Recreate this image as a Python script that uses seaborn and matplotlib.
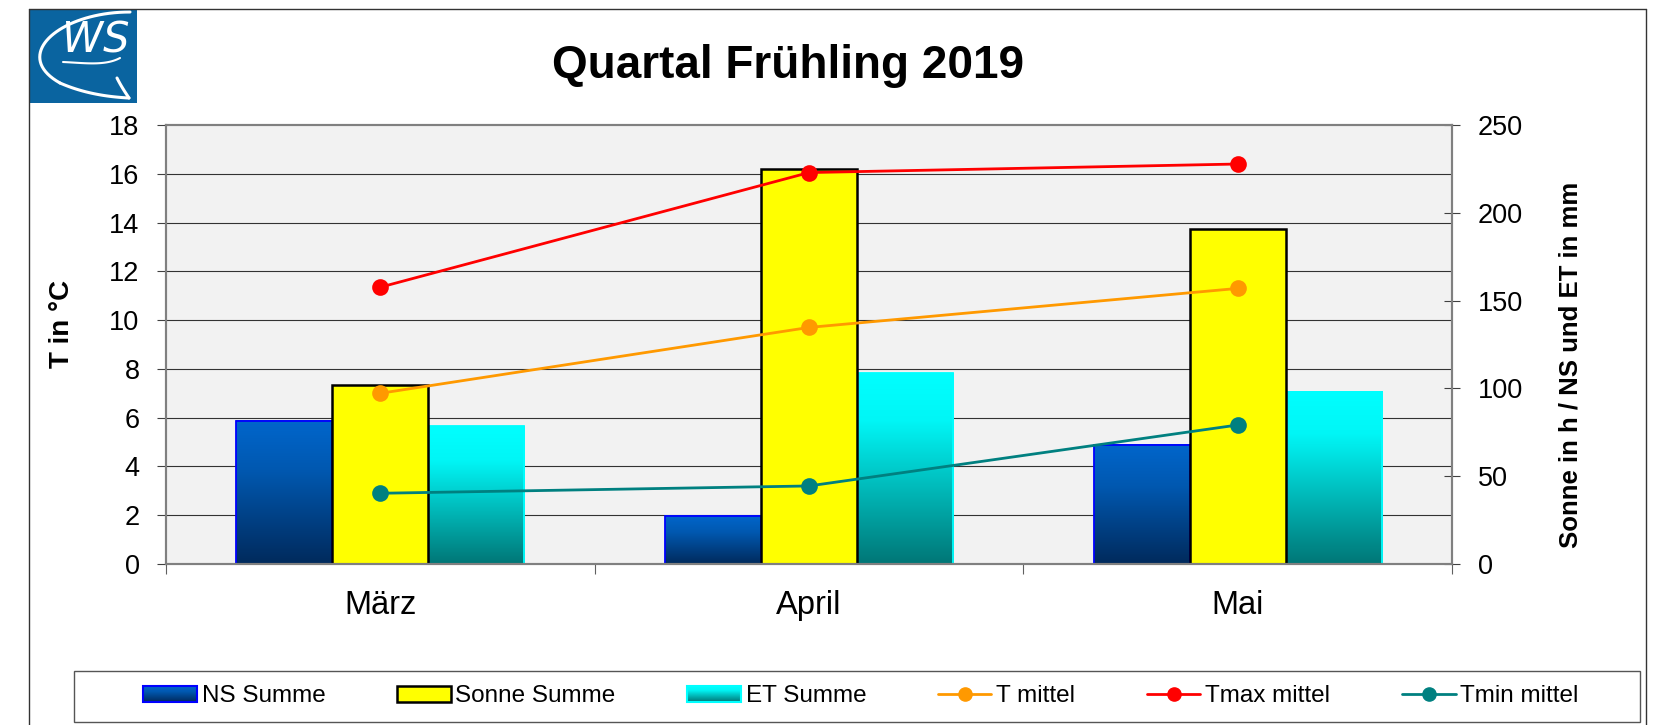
import numpy as np
import pandas as pd
import seaborn as sns
import matplotlib.pyplot as plt
from matplotlib.colors import LinearSegmentedColormap
from matplotlib.patches import Rectangle, Patch
from matplotlib.lines import Line2D
from matplotlib.legend_handler import HandlerBase
from matplotlib.image import BboxImage
from matplotlib.transforms import Bbox, TransformedBbox

# Daten
monate = ['März', 'April', 'Mai']

# Balken, rechte Achse (Sonne in h / NS und ET in mm)
ns_summe = [81.5, 27.5, 68.0]
sonne_summe = [102.0, 225.0, 191.0]
et_summe = [78.5, 108.5, 98.0]

# Linien, linke Achse (T in °C)
t_mittel = [7.0, 9.7, 11.3]
tmax_mittel = [11.35, 16.05, 16.4]
tmin_mittel = [2.9, 3.2, 5.7]

bar_serien = ['NS Summe', 'Sonne Summe', 'ET Summe']
linien_serien = ['T mittel', 'Tmax mittel', 'Tmin mittel']

df_bar = pd.DataFrame({
    'Monat': monate * 3,
    'Serie': [s for s in bar_serien for _ in monate],
    'Wert': ns_summe + sonne_summe + et_summe,
})
df_t = pd.DataFrame({
    'Monat': monate * 3,
    'Serie': [s for s in linien_serien for _ in monate],
    'Wert': t_mittel + tmax_mittel + tmin_mittel,
})

sns.set_style('white')
plt.rcParams['font.family'] = ['Liberation Sans', 'DejaVu Sans']
plt.rcParams['text.color'] = 'black'
plt.rcParams['axes.labelcolor'] = 'black'
plt.rcParams['xtick.color'] = 'black'
plt.rcParams['ytick.color'] = 'black'

W, H = 1662, 725
fig = plt.figure(figsize=(W / 100, H / 100), dpi=100)
ax_t = fig.add_axes([166 / W, 1 - 564 / H, (1452 - 166) / W, (564 - 125) / H])
ax_b = ax_t.twinx()

# Balken
sns.barplot(data=df_bar, x='Monat', y='Wert', hue='Serie', order=monate,
            hue_order=bar_serien, palette=['#0058B0', '#FFFF00', '#00E0E0'],
            width=0.672, gap=0, errorbar=None, legend=False, saturation=1, ax=ax_b)

edge_cols = ['#0000FF', '#000000', '#00FFFF']
edge_lws = [1.3, 1.8, 1.3]
for cont, ec, lw in zip(ax_b.containers, edge_cols, edge_lws):
    for p in cont:
        p.set_edgecolor(ec)
        p.set_linewidth(lw)
for p in ax_b.containers[1]:
    p.set_zorder(2.3)

# Farbverlauf für NS und ET
cmap_ns = LinearSegmentedColormap.from_list('ns', [(0, '#0066CC'), (0.35, '#0058B0'), (1, '#002A5C')])
cmap_et = LinearSegmentedColormap.from_list('et', [(0, '#00FFFF'), (0.25, '#00F6F6'), (1, '#007676')])
grad = np.linspace(0, 1, 256).reshape(-1, 1)
for cont, cmap in [(ax_b.containers[0], cmap_ns), (ax_b.containers[2], cmap_et)]:
    for p in cont:
        x0, w, h = p.get_x(), p.get_width(), p.get_height()
        ax_b.imshow(grad, cmap=cmap, extent=[x0, x0 + w, 0, h], origin='upper',
                    aspect='auto', zorder=1.9, interpolation='bilinear')
        p.set_facecolor('none')
        p.set_zorder(2.1)

ax_b.set_xlim(-0.5, 2.5)
ax_b.set_ylim(0, 250)

# Linien
sns.pointplot(data=df_t, x='Monat', y='Wert', hue='Serie', order=monate,
              hue_order=linien_serien, palette=['#FF9900', '#FF0000', '#008080'],
              markers='o', linestyles='-', errorbar=None, dodge=False, legend=False,
              markersize=10.5, linewidth=2, ax=ax_t)

ax_t.set_zorder(ax_b.get_zorder() + 1)
ax_t.patch.set_visible(False)
ax_b.patch.set_visible(True)
ax_b.set_facecolor('#F2F2F2')

ax_t.set_xlim(-0.5, 2.5)
ax_t.set_ylim(0, 18)
ax_t.set_yticks(range(0, 19, 2))
ax_t.tick_params(axis='y', direction='out', length=6.5, width=0.8, color='#404040',
                 labelsize=19.5, pad=12.5, left=True)
ax_b.set_yticks(range(0, 251, 50))
ax_b.tick_params(axis='y', which='major', direction='inout', length=12, width=0.8,
                 color='#404040', labelsize=19.5, pad=12.5, right=True)
ax_b.set_yticks(np.arange(1, 9) * 250 / 9, minor=True)
ax_b.tick_params(axis='y', which='minor', length=0)
ax_b.yaxis.grid(True, which='minor', color='#333333', linewidth=0.8)
ax_b.set_axisbelow(True)

ax_t.set_xticks([0, 1, 2])
ax_t.set_xticklabels(monate)
ax_t.set_xticks([-0.5, 0.5, 1.5, 2.5], minor=True)
ax_t.tick_params(axis='x', which='major', length=0, labelsize=23.5, pad=19)
ax_t.tick_params(axis='x', which='minor', direction='out', length=7, width=0.8,
                 color='#606060', bottom=True)

for ax in (ax_t, ax_b):
    ax.set_xlabel('')
    ax.set_ylabel('')
    for s in ax.spines.values():
        s.set_visible(True)
        s.set_color('#808080')
        s.set_linewidth(1.5)

fig.text(62 / W, 1 - 324 / H, 'T in °C', rotation=90, ha='center', va='center',
         fontsize=20, fontweight='bold')
fig.text(1570 / W, 1 - 365 / H, 'Sonne in h / NS und ET in mm', rotation=90,
         ha='center', va='center', fontsize=18.5, fontweight='bold')
fig.text(788 / W, 1 - 66 / H, 'Quartal Frühling 2019', ha='center', va='center',
         fontsize=33, fontweight='bold')


# Legende
class GradHandler(HandlerBase):
    def __init__(self, cmap, edge):
        super().__init__()
        self.cmap = cmap
        self.edge = edge

    def create_artists(self, legend, orig_handle, xdescent, ydescent, width, height, fontsize, trans):
        bb = TransformedBbox(Bbox.from_bounds(-xdescent, -ydescent, width, height), trans)
        img = BboxImage(bb, cmap=self.cmap, interpolation='bilinear')
        img.set_data(grad)
        rect = Rectangle((-xdescent, -ydescent), width, height, fc='none',
                         ec=self.edge, lw=1.5, transform=trans)
        return [img, rect]


h_ns = Patch(fc='#0058B0', ec='#0000FF')
h_so = Patch(fc='#FFFF00', ec='#000000', lw=1.8)
h_et = Patch(fc='#00E0E0', ec='#00FFFF')
h_lines = [Line2D([], [], color=c, marker='o', markersize=9.5, lw=2)
           for c in ['#FF9900', '#FF0000', '#008080']]
fig.legend([h_ns, h_so, h_et] + h_lines, bar_serien + linien_serien,
           loc='center', bbox_to_anchor=(861 / W, 1 - 696.5 / H), ncol=6,
           frameon=False, fontsize=17.5, handlelength=2.2, handleheight=0.6,
           handletextpad=0.2, columnspacing=2.95,
           handler_map={h_ns: GradHandler(cmap_ns, '#0000FF'),
                        h_et: GradHandler(cmap_et, '#00FFFF')})
fig.add_artist(Rectangle((74 / W, 1 - 722 / H), (1640 - 74) / W, 51 / H,
                         transform=fig.transFigure, fill=False, ec='#555555', lw=1))

# Rahmen
for xs, ys in [([29, 29], [9, 725]), ([29, 1646], [9, 9]), ([1646, 1646], [9, 725])]:
    fig.add_artist(Line2D([x / W for x in xs], [1 - y / H for y in ys],
                          transform=fig.transFigure, color='#333333', lw=1))

# Logo
ax_logo = fig.add_axes([29 / W, 1 - 103 / H, 108 / W, 94 / H])
ax_logo.add_patch(Rectangle((0, 0), 1, 1, color='#0A64A0', transform=ax_logo.transAxes))
ax_logo.set_xlim(0, 1)
ax_logo.set_ylim(0, 1)
ax_logo.axis('off')
ax_logo.text(0.62, 0.66, 'WS', color='white', fontsize=30, style='italic',
             family='DejaVu Sans', ha='center', va='center')


def bez(p0, p1, p2, p3, n=40):
    t = np.linspace(0, 1, n)[:, None]
    pts = (1 - t) ** 3 * np.array(p0) + 3 * (1 - t) ** 2 * t * np.array(p1) \
        + 3 * (1 - t) * t ** 2 * np.array(p2) + t ** 3 * np.array(p3)
    return (pts[:, 0] - 29) / 108, (103 - pts[:, 1]) / 94


for seg in [((130, 12), (60, 12), (10, 55), (60, 83)),
            ((60, 83), (85, 94), (110, 97), (129, 98))]:
    xs, ys = bez(*seg)
    ax_logo.plot(xs, ys, color='white', lw=2.2)
xs, ys = bez((129, 98), (125, 92), (121, 86), (117, 78))
ax_logo.plot(xs, ys, color='white', lw=2.2)
xs, ys = bez((63, 62), (85, 63), (105, 66), (120, 58))
ax_logo.plot(xs, ys, color='white', lw=1.5)

fig.savefig('out.png', dpi=100)
